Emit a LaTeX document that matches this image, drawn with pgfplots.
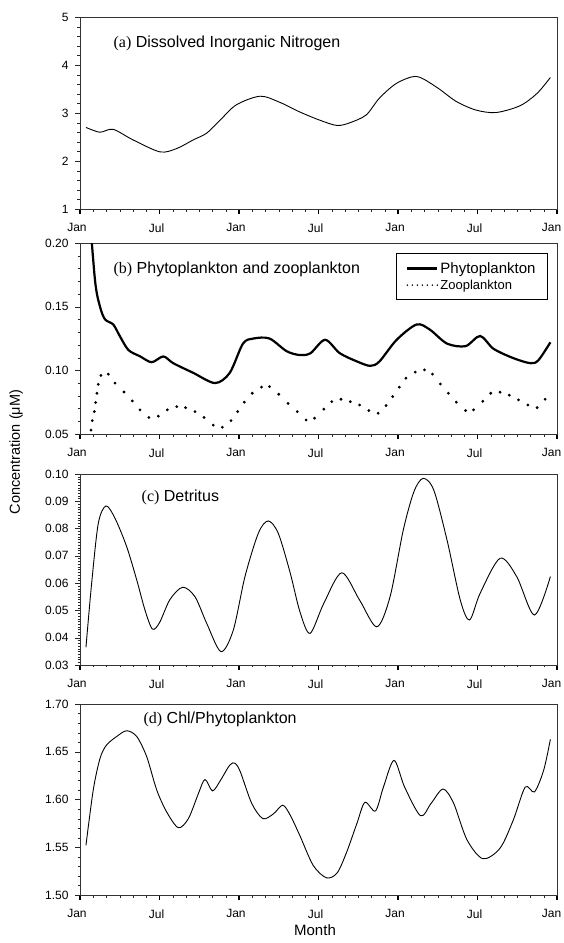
\documentclass[border=0pt]{standalone}
\usepackage{fontspec}
\setmainfont{Liberation Sans}
\newfontfamily\seriffont{Liberation Serif}
\usepackage{pgfplots}
\pgfplotsset{compat=1.18}

\pgfplotsset{
  panel/.style={
    scale only axis, width=477pt, height=191pt,
    anchor=north west,
    xmin=0, xmax=36,
    xtick={0,6,...,36},
    xticklabels={Jan,Jul,Jan,Jul,Jan,Jul,\hspace*{-5pt}Jan},
    minor xtick={1,...,35},
    xtick pos=left, ytick pos=left,
    tick align=outside,
    major tick length=5pt, minor tick length=2.5pt,
    every major x tick/.append style={line width=1.6pt, black},
    every tick/.append style={black!85},
    axis line style={line width=0.8pt, black!80},
    tick label style={font=\fontsize{12}{13}\selectfont},
    xticklabel style={yshift=-6pt, xshift=-3pt},
    yticklabel style={xshift=-3pt},
    every axis plot/.append style={line width=0.9pt, black},
  },
}
\tikzset{ptitle/.style={anchor=west, font=\fontsize{16}{18}\selectfont}}

\begin{document}
\begin{tikzpicture}

% --- (a) DIN ---
\begin{axis}[panel, at={(80pt,-17pt)}, height=192pt,
  ymin=1, ymax=5, ytick={1,2,3,4,5}, yticklabels={1,2,3,4,5},
  minor y tick num=4]
\addplot[smooth] coordinates {
  (0.45,2.70) (1.5,2.60) (2.5,2.66) (4.0,2.44) (6.04,2.19) (7.3,2.26)
  (8.55,2.44) (9.56,2.58) (10.57,2.85) (11.8,3.17) (13.6,3.35) (15.1,3.22)
  (16.6,3.02) (18.1,2.85) (19.4,2.74) (20.4,2.80) (21.6,2.96) (22.6,3.31)
  (23.9,3.62) (25.4,3.76) (26.9,3.54) (28.4,3.24) (29.9,3.06) (31.4,3.01)
  (33.2,3.15) (34.5,3.41) (35.5,3.74)
};
\node[ptitle] at (rel axis cs:0.063,0.865) {{\seriffont(a)} Dissolved Inorganic Nitrogen};
\end{axis}

% --- (b) Phyto and zoo ---
\begin{axis}[panel, at={(80pt,-243pt)},
  ymin=0.05, ymax=0.20, ytick={0.05,0.10,0.15,0.20},
  yticklabels={0.05,0.10,0.15,0.20}, minor y tick num=4,
  legend style={at={(rel axis cs:0.981,0.948)}, anchor=north east,
    draw=black, line width=0.8pt, font=\fontsize{15}{16}\selectfont,
    inner xsep=10pt, inner ysep=7pt, row sep=1pt, cells={anchor=west}},
  legend cell align=left]
\addplot[smooth, line width=2.2pt,
  legend image code/.code={
    \draw[line width=2.2pt] (0pt,0pt) -- (30pt,0pt);}] coordinates {
  (0.6,0.24) (1.13,0.171) (1.51,0.150) (1.89,0.140) (2.51,0.136) (3.0,0.127)
  (3.65,0.116) (4.53,0.111) (5.41,0.1064) (6.29,0.1109) (7.04,0.1056)
  (8.55,0.098) (10.19,0.090) (11.3,0.098) (12.3,0.121) (13.1,0.125)
  (14.3,0.125) (15.6,0.115) (16.6,0.112) (17.4,0.1135) (18.5,0.124)
  (19.6,0.1135) (20.9,0.107) (21.9,0.1035) (22.6,0.107) (23.9,0.124)
  (25.4,0.136) (26.4,0.132) (27.7,0.121) (29.1,0.119) (30.2,0.127)
  (31.2,0.117) (32.7,0.1096) (34.0,0.1056) (34.6,0.108) (35.5,0.122)
};
\addlegendentry{Phytoplankton}
\addplot[only marks, mark=*, mark size=0.9pt,
  legend image code/.code={
    \draw[line width=1.7pt, dash pattern=on 0pt off 5pt, line cap=round]
      (0pt,0pt) -- (30pt,0pt);}] coordinates {
  (0.83,0.053) (0.93,0.0605) (1.08,0.0676) (1.18,0.0747) (1.28,0.082)
  (1.38,0.089) (1.58,0.096) (2.14,0.097) (2.64,0.090) (3.32,0.083)
  (3.95,0.076) (4.53,0.069) (5.2,0.063) (5.91,0.064) (6.59,0.069)
  (7.3,0.0715) (7.97,0.0707) (8.68,0.0676) (9.36,0.063) (10.06,0.057)
  (10.74,0.0553) (11.4,0.0605) (11.9,0.0676) (12.4,0.075) (13.0,0.082)
  (13.7,0.0868) (14.3,0.0872) (15.0,0.0812) (15.7,0.074) (16.4,0.0676)
  (17.06,0.061) (17.7,0.0624) (18.4,0.0695) (19.0,0.0754) (19.7,0.0773)
  (20.4,0.0754) (21.1,0.0728) (21.8,0.0684) (22.5,0.0663) (23.1,0.0723)
  (23.6,0.0794) (24.1,0.0868) (24.6,0.0938) (25.3,0.0986) (26.0,0.1004)
  (26.6,0.097) (27.2,0.0893) (27.8,0.082) (28.4,0.075) (29.1,0.0684)
  (29.7,0.069) (30.4,0.0757) (31.0,0.082) (31.7,0.0828) (32.4,0.0805)
  (33.1,0.0768) (33.8,0.0728) (34.5,0.0707) (35.1,0.0773)
};
\addlegendentry{\fontsize{13}{14}\selectfont Zooplankton}
\node[ptitle] at (rel axis cs:0.063,0.86) {{\seriffont(b)} Phytoplankton and zooplankton};
\end{axis}

% --- (c) Detritus ---
\begin{axis}[panel, at={(80pt,-474pt)},
  ymin=0.03, ymax=0.10,
  ytick={0.03,0.04,0.05,0.06,0.07,0.08,0.09,0.10},
  yticklabels={0.03,0.04,0.05,0.06,0.07,0.08,0.09,0.10}, minor y tick num=9]
\addplot[smooth] coordinates {
  (0.45,0.0365) (0.88,0.060) (1.38,0.0819) (1.96,0.0883) (2.64,0.0838)
  (3.52,0.0734) (4.28,0.0612) (4.9,0.0502) (5.46,0.0432) (6.0,0.0455)
  (6.79,0.054) (7.75,0.0585) (8.68,0.055) (9.56,0.0453) (10.64,0.0349)
  (11.57,0.0428) (12.45,0.0624) (13.46,0.0783) (14.2,0.0828) (14.96,0.0783)
  (15.85,0.064) (16.6,0.0495) (17.36,0.0416) (18.4,0.0526) (19.75,0.0638)
  (21.1,0.0538) (22.4,0.044) (23.4,0.055) (24.4,0.0795) (25.2,0.0935)
  (25.9,0.0984) (26.7,0.0941) (27.7,0.0758) (28.7,0.0538) (29.4,0.0465)
  (30.2,0.0563) (31.7,0.0691) (32.96,0.0624) (34.3,0.0483) (35.5,0.0624)
};
\node[ptitle] at (rel axis cs:0.122,0.875) {{\seriffont(c)} Detritus};
\end{axis}

% --- (d) Chl/Phyto ---
\begin{axis}[panel, at={(80pt,-704pt)},
  ymin=1.50, ymax=1.70, ytick={1.50,1.55,1.60,1.65,1.70},
  yticklabels={1.50,1.55,1.60,1.65,1.70}, minor y tick num=4]
\addplot[smooth] coordinates {
  (0.45,1.552) (1.0,1.610) (1.51,1.643) (2.0,1.657) (2.77,1.666) (3.52,1.672)
  (4.28,1.666) (5.03,1.645) (5.79,1.610) (6.54,1.587) (7.42,1.5705)
  (8.18,1.580) (8.93,1.606) (9.43,1.621) (10.0,1.609) (10.6,1.620)
  (11.3,1.636) (11.7,1.638) (12.1,1.629) (12.96,1.596) (13.8,1.580)
  (14.6,1.585) (15.3,1.594) (15.85,1.584) (16.6,1.562) (17.6,1.531)
  (18.6,1.518) (19.4,1.523) (20.1,1.544) (20.9,1.575) (21.5,1.597)
  (22.3,1.588) (22.9,1.613) (23.7,1.641) (24.5,1.613) (25.7,1.583)
  (26.5,1.596) (27.4,1.611) (28.2,1.596) (29.2,1.558) (30.4,1.538)
  (31.7,1.549) (32.7,1.5785) (33.6,1.613) (34.3,1.608) (35.0,1.631)
  (35.5,1.663)
};
\node[ptitle] at (rel axis cs:0.126,0.92) {{\seriffont(d)} Chl/Phytoplankton};
\end{axis}

\node[rotate=90, font=\fontsize{14.5}{16}\selectfont] at (16pt,-452pt) {Concentration (μM)};
\node[font=\fontsize{15}{17}\selectfont] at (315pt,-930pt) {Month};

\pgfresetboundingbox
\path[use as bounding box] (0pt,0pt) rectangle (564pt,-943pt);
\end{tikzpicture}
\end{document}
